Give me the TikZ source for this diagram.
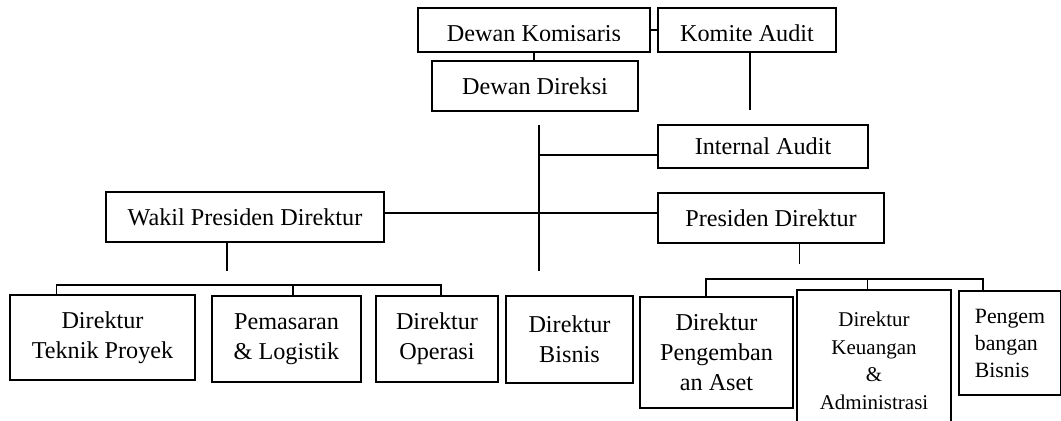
\documentclass[tikz,border=0pt]{standalone}
\usepackage{fontspec}
\setmainfont{Liberation Serif}
\newcommand{\mainfs}{\fontsize{12.1pt}{15pt}\selectfont}
\newcommand{\keufs}{\fontsize{10.5pt}{13.75pt}\selectfont}
\newcommand{\pbfs}{\fontsize{10.9pt}{13.5pt}\selectfont}
\begin{document}
\begin{tikzpicture}[x=0.5pt,y=-0.5pt,
  box/.style={draw, line width=0.9pt, inner sep=0pt, align=center, font=\mainfs},
  label/.style={inner sep=0pt, align=center, font=\mainfs, anchor=base},
  link/.style={line width=0.9pt}]
\useasboundingbox (0,0) rectangle (1061,421);

% top level
\node[box, minimum width=116pt, minimum height=22pt] (dk) at (534,30) {};
\node[box, minimum width=89pt, minimum height=22pt] (ka) at (747,30) {};
\begin{scope}
  \clip (dk.north west) rectangle (ka.east |- 0,41);
  \node[label] (dktext) at (534,42) {Dewan Komisaris};
  \node[label] (katext) at (747,42) {Komite Audit};
\end{scope}
\node[box, minimum width=103pt, minimum height=25pt] (dd) at (535,86) {Dewan Direksi};
\node[box, minimum width=105pt, minimum height=21.5pt] (ia) at (763,146.5) {Internal Audit};

% second level
\node[box, minimum width=139pt, minimum height=25pt] (wpd) at (245,217) {Wakil Presiden Direktur};
\node[box, minimum width=113pt, minimum height=25pt] (pd) at (771,218) {Presiden Direktur};

% directors
\node[box, minimum width=92.5pt, minimum height=42.5pt] (tp) at (102.5,337.5) {Direktur\\Teknik Proyek};
\node[box, minimum width=74.5pt, minimum height=43pt] (pl) at (286.5,339) {Pemasaran\\\& Logistik};
\node[box, minimum width=61pt, minimum height=43pt] (op) at (437,339) {Direktur\\Operasi};
\node[box, minimum width=63.5pt, minimum height=43.5pt] (bi) at (569.5,339.5) {Direktur\\Bisnis};
\node[box, minimum width=76.5pt, minimum height=55.5pt] (pa) at (716.5,352.5) {Direktur\\Pengemban\\an Aset};
\node[box, minimum width=77pt, minimum height=75pt] (keu) at (874,365) {};
\node[align=center, inner sep=0pt, font=\keufs] (keutext) at (874,361) {Direktur\\Keuangan\\\&\\Administrasi};
\node[box, minimum width=51pt, minimum height=52pt, align=left, font=\pbfs] (pb) at (1010,343) {Pengem\\bangan\\Bisnis};

% connectors, top
\draw[link] (dk.east) -- (ka.west);
\draw[link] (dk.south) -- (dk.south |- dd.north);
\coordinate (kaend) at (750,110);
\draw[link] (kaend |- ka.south) -- (kaend);

% central spine
\coordinate (vtop) at (539,125);
\coordinate (vbot) at (539,271);
\draw[link] (vtop) -- (vbot);
\coordinate (iaj) at (539,155);
\draw[link] (iaj) -- (iaj -| ia.west);
\coordinate (hj) at (539,213);
\draw[link] (hj -| wpd.east) -- (hj -| pd.west);

% left branch
\coordinate (wdn) at (227,271);
\draw[link] (wdn |- wpd.south) -- (wdn);
\coordinate (lbL) at (56.5,285);
\coordinate (lbM) at (293,285);
\coordinate (lbR) at (441,285);
\draw[link] (lbL |- tp.north) -- (lbL) -- (lbR) -- (lbR |- op.north);
\draw[link] (lbM) -- (lbM |- pl.north);

% right branch
\coordinate (pdn) at (799.5,264);
\draw[link] (pdn |- pd.south) -- (pdn);
\coordinate (rbL) at (706,279);
\coordinate (rbM) at (867.5,279);
\coordinate (rbR) at (983,279);
\draw[link] (rbL |- pa.north) -- (rbL) -- (rbR) -- (rbR |- pb.north);
\draw[link] (rbM) -- (rbM |- keu.north);
\end{tikzpicture}
\end{document}
